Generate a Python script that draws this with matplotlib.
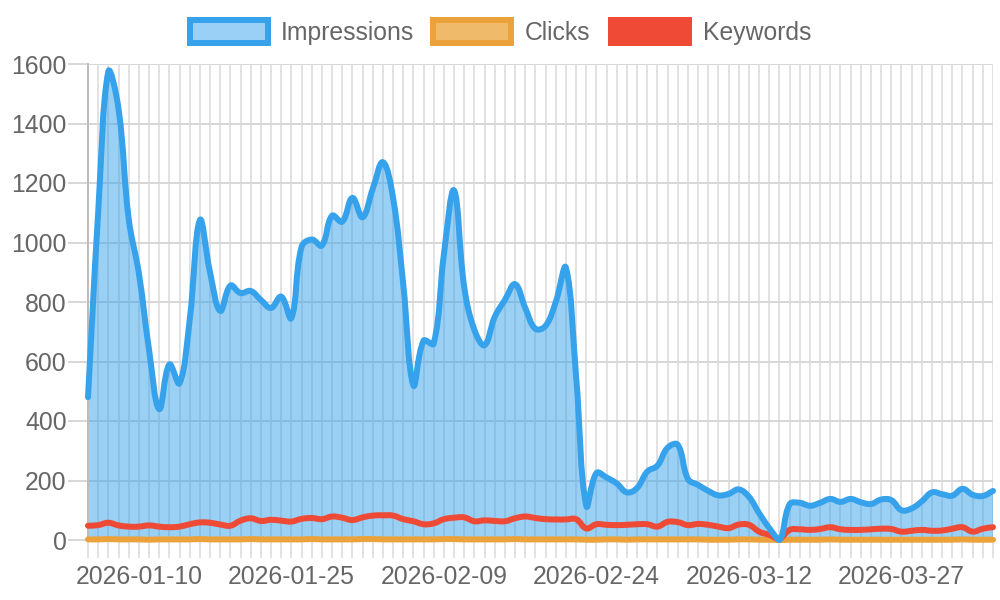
import numpy as np
import pandas as pd
import matplotlib
matplotlib.use('Agg')
import matplotlib.pyplot as plt
from matplotlib.path import Path
from matplotlib.patches import PathPatch, Rectangle

plt.rcParams['font.family'] = ['Liberation Sans', 'DejaVu Sans']

# daily dates (one day is missing from the export)
dates = pd.date_range('2026-01-05', '2026-04-05').drop(pd.Timestamp('2026-03-08'))
labels = [d.strftime('%Y-%m-%d') for d in dates]

impressions = [480, 1100, 1575, 1450, 1080, 897, 640, 440, 590, 527,
               740, 1075, 900, 770, 855, 830, 837, 807, 780, 818,
               746, 985, 1010, 990, 1090, 1070, 1150, 1085, 1180, 1270,
               1150, 860, 520, 670, 660, 960, 1175, 850, 706, 655,
               750, 807, 860, 780, 710, 720, 800, 915, 550, 115,
               225, 210, 190, 160, 175, 230, 250, 310, 320, 205,
               185, 165, 150, 155, 170, 145, 90, 40, 0, 120,
               125, 115, 125, 138, 128, 138, 127, 121, 136, 134,
               100, 106, 130, 160, 154, 149, 172, 152, 148, 165]
clicks = [2, 2, 3, 2, 2, 2, 1, 2, 2, 2,
          2, 3, 2, 2, 2, 2, 3, 2, 2, 2,
          2, 2, 3, 2, 2, 2, 2, 3, 3, 2,
          2, 2, 2, 2, 2, 3, 3, 2, 2, 2,
          2, 2, 3, 2, 2, 2, 2, 2, 2, 1,
          1, 2, 2, 1, 2, 2, 2, 2, 2, 2,
          2, 1, 1, 1, 2, 2, 1, 1, 0, 1,
          1, 1, 1, 2, 1, 1, 1, 1, 1, 1,
          1, 1, 1, 1, 1, 1, 2, 1, 1, 1]
keywords = [48, 50, 58, 49, 45, 45, 49, 45, 43, 45,
            53, 59, 58, 52, 48, 65, 73, 64, 68, 65,
            62, 71, 74, 70, 79, 75, 67, 76, 82, 83,
            82, 70, 63, 53, 56, 70, 75, 76, 63, 66,
            64, 63, 73, 79, 74, 70, 69, 69, 70, 39,
            53, 51, 50, 51, 53, 53, 45, 61, 60, 50,
            54, 51, 45, 40, 52, 51, 28, 17, 5, 34,
            36, 34, 37, 43, 36, 34, 34, 36, 38, 37,
            28, 31, 34, 31, 32, 38, 43, 28, 38, 43]

series_names = ['Impressions', 'Clicks', 'Keywords']

W, H = 1000, 600
left, right, top, bottom = 88, 993, 64, 540
ymax = 1600
n = len(labels)
x = np.arange(n)

fig = plt.figure(figsize=(10, 6), dpi=100)
ax = fig.add_axes([left / W, 1 - bottom / H, (right - left) / W, (bottom - top) / H])
ax.set_xlim(0, n - 1)
ax.set_ylim(0, ymax)

# pixel scale, so the curve tension behaves like chart.js
sx = (right - left) / (n - 1)
sy = (bottom - top) / ymax


def smooth(xs, ys, t=0.4):
    px = np.asarray(xs, float) * sx
    py = np.asarray(ys, float) * sy
    m = len(px)
    prev = np.zeros((m, 2))
    nxt = np.zeros((m, 2))
    for i in range(m):
        a, b = max(i - 1, 0), min(i + 1, m - 1)
        d01 = np.hypot(px[i] - px[a], py[i] - py[a])
        d12 = np.hypot(px[b] - px[i], py[b] - py[i])
        tot = d01 + d12
        s01 = d01 / tot if tot else 0
        s12 = d12 / tot if tot else 0
        dx, dy = px[b] - px[a], py[b] - py[a]
        prev[i] = px[i] - t * s01 * dx, py[i] - t * s01 * dy
        nxt[i] = px[i] + t * s12 * dx, py[i] + t * s12 * dy
    for c in (prev, nxt):
        c[:, 0] = np.clip(c[:, 0], 0, px[-1])
        c[:, 1] = np.clip(c[:, 1], 0, ymax * sy)
    verts = [(px[0], py[0])]
    codes = [Path.MOVETO]
    for i in range(m - 1):
        verts += [tuple(nxt[i]), tuple(prev[i + 1]), (px[i + 1], py[i + 1])]
        codes += [Path.CURVE4] * 3
    verts = np.array(verts)
    verts[:, 0] /= sx
    verts[:, 1] /= sy
    return verts, codes


blue = '#36A2EB'
orange = '#EBA23A'
red = '#EE4A36'
lw = 6 * 72 / 100
fs = 17.8

v, c = smooth(x, impressions)
fill_v = np.vstack([v, [[n - 1, 0], [0, 0], v[0]]])
fill_c = c + [Path.LINETO, Path.LINETO, Path.CLOSEPOLY]
ax.add_patch(PathPatch(Path(fill_v, fill_c), facecolor=(54/255, 162/255, 235/255, 0.5),
                       edgecolor='none', zorder=2))

for data, col, z in [(clicks, orange, 3), (keywords, red, 4), (impressions, blue, 5)]:
    v, c = smooth(x, data)
    ax.add_patch(PathPatch(Path(v, c), facecolor='none', edgecolor=col, lw=lw,
                           capstyle='round', joinstyle='round', zorder=z, clip_on=False))

# axes, grid, ticks
vgrid = '#e2e2e2'
hgrid = '#d8d8d8'
glw = 2 * 72 / 100
ax.set_axisbelow(True)
for s in ['top', 'right']:
    ax.spines[s].set_visible(False)
for s in ['left', 'bottom']:
    ax.spines[s].set_color('#bdbdbd')
    ax.spines[s].set_linewidth(glw)

ax.set_xticks(x)
ax.set_xticklabels([lab if (i - 5) % 15 == 0 and i >= 5 else '' for i, lab in enumerate(labels)])
ax.set_yticks(np.arange(0, ymax + 1, 200))
ax.tick_params(axis='x', length=18 * 0.72, width=glw, color=vgrid, pad=5,
               labelsize=fs, labelcolor='#666666')
ax.tick_params(axis='y', length=20 * 0.72, width=glw, color=hgrid, pad=1,
               labelsize=fs, labelcolor='#666666')
ax.grid(True, axis='x', color=vgrid, linewidth=glw)
ax.grid(True, axis='y', color=hgrid, linewidth=glw)

# legend drawn in figure pixels
box_x = [190, 433, 611]
text_x = [281, 525, 703]
face = [(154/255, 208/255, 245/255), (240/255, 186/255, 107/255), red]
edge = [blue, orange, red]
for name, bx, tx, fc, ec in zip(series_names, box_x, text_x, face, edge):
    fig.add_artist(Rectangle((bx / W, 1 - 43 / H), 78 / W, 23 / H, transform=fig.transFigure,
                             facecolor=fc, edgecolor=ec, lw=lw))
    fig.text(tx / W, 1 - 33 / H, name, fontsize=fs, color='#666666', ha='left', va='center')

fig.savefig('out.png', dpi=100)
